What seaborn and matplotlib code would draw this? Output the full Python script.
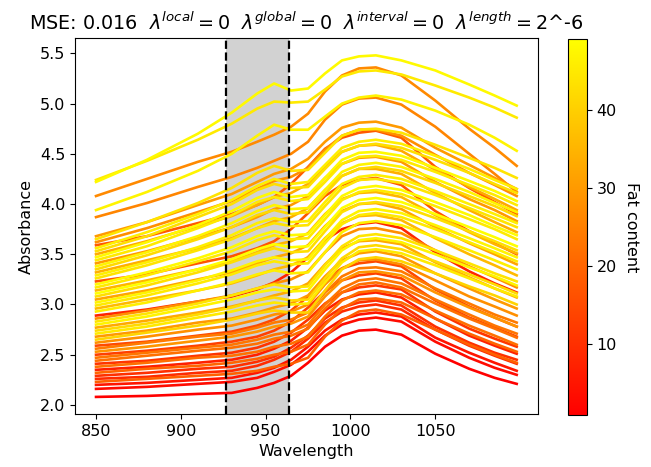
import numpy as np
import pandas as pd
import matplotlib
matplotlib.use("Agg")
import matplotlib.pyplot as plt
import seaborn as sns

wavelength = [850, 880, 910, 930, 945, 955, 965, 975, 985, 995, 1005, 1015, 1030, 1050, 1070, 1085, 1098]

# Fat content of each sample (colour of each curve)
fat = [48, 45, 27, 26, 47,
       30, 44, 28, 18, 46, 43, 33, 48, 45, 30, 47, 42, 34, 46, 44, 17,
       48, 45, 35, 49, 43, 32, 47, 45, 36, 46, 8, 28, 44, 47, 33, 42,
       45, 30, 41, 28, 15, 24, 29, 13, 23, 22, 11, 22, 7, 20, 10, 9,
       19, 5, 3, 1]

# Absorbance of each sample on the wavelength grid
spectra = [
    [4.22, 4.44, 4.70, 4.91, 5.10, 5.20, 5.13, 5.15, 5.30, 5.43, 5.47, 5.48, 5.43, 5.33, 5.19, 5.08, 4.98],
    [4.24, 4.43, 4.64, 4.80, 4.95, 5.02, 5.01, 5.02, 5.14, 5.27, 5.32, 5.33, 5.29, 5.18, 5.06, 4.96, 4.86],
    [4.08, 4.25, 4.42, 4.52, 4.62, 4.69, 4.77, 4.90, 5.12, 5.28, 5.35, 5.36, 5.28, 5.03, 4.75, 4.56, 4.38],
    [3.87, 4.01, 4.17, 4.27, 4.36, 4.43, 4.50, 4.62, 4.84, 4.99, 5.05, 5.06, 4.99, 4.77, 4.50, 4.30, 4.12],
    [3.94, 4.12, 4.33, 4.50, 4.68, 4.79, 4.74, 4.74, 4.87, 5.00, 5.06, 5.08, 5.04, 4.93, 4.79, 4.66, 4.53],
    [3.68, 3.82, 3.99, 4.10, 4.22, 4.30, 4.35, 4.45, 4.62, 4.76, 4.81, 4.82, 4.76, 4.56, 4.39, 4.26, 4.15],
    [3.65, 3.82, 4.01, 4.16, 4.31, 4.38, 4.33, 4.34, 4.51, 4.68, 4.74, 4.75, 4.71, 4.59, 4.46, 4.36, 4.26],
    [3.62, 3.76, 3.92, 4.03, 4.15, 4.23, 4.27, 4.36, 4.54, 4.68, 4.74, 4.74, 4.68, 4.49, 4.31, 4.19, 4.08],
    [3.59, 3.68, 3.81, 3.90, 3.99, 4.07, 4.20, 4.37, 4.55, 4.66, 4.71, 4.73, 4.66, 4.37, 4.16, 4.02, 3.90],
    [3.56, 3.72, 3.90, 4.04, 4.18, 4.25, 4.20, 4.22, 4.39, 4.56, 4.62, 4.64, 4.60, 4.48, 4.35, 4.24, 4.15],
    [3.53, 3.68, 3.87, 4.00, 4.14, 4.20, 4.16, 4.17, 4.35, 4.52, 4.58, 4.60, 4.56, 4.44, 4.31, 4.20, 4.11],
    [3.50, 3.63, 3.78, 3.88, 3.99, 4.07, 4.11, 4.20, 4.38, 4.52, 4.58, 4.59, 4.53, 4.34, 4.17, 4.05, 3.94],
    [3.47, 3.62, 3.79, 3.93, 4.06, 4.12, 4.07, 4.09, 4.26, 4.44, 4.51, 4.52, 4.48, 4.36, 4.23, 4.13, 4.03],
    [3.44, 3.58, 3.76, 3.89, 4.02, 4.07, 4.03, 4.05, 4.22, 4.40, 4.47, 4.48, 4.44, 4.32, 4.19, 4.09, 3.99],
    [3.41, 3.53, 3.67, 3.77, 3.87, 3.95, 3.99, 4.08, 4.26, 4.40, 4.46, 4.47, 4.42, 4.22, 4.05, 3.94, 3.83],
    [3.38, 3.52, 3.68, 3.81, 3.93, 3.99, 3.95, 3.96, 4.14, 4.32, 4.39, 4.41, 4.37, 4.25, 4.12, 4.01, 3.92],
    [3.35, 3.49, 3.65, 3.77, 3.89, 3.94, 3.90, 3.92, 4.10, 4.28, 4.35, 4.37, 4.33, 4.21, 4.08, 3.98, 3.88],
    [3.32, 3.44, 3.56, 3.66, 3.76, 3.83, 3.87, 3.96, 4.14, 4.28, 4.35, 4.35, 4.30, 4.11, 3.94, 3.82, 3.72],
    [3.29, 3.42, 3.57, 3.69, 3.81, 3.86, 3.82, 3.83, 4.02, 4.20, 4.27, 4.29, 4.25, 4.13, 4.00, 3.90, 3.81],
    [3.26, 3.39, 3.54, 3.65, 3.76, 3.81, 3.78, 3.79, 3.98, 4.16, 4.24, 4.25, 4.21, 4.09, 3.96, 3.86, 3.77],
    [3.23, 3.30, 3.41, 3.48, 3.56, 3.63, 3.75, 3.91, 4.08, 4.19, 4.24, 4.26, 4.19, 3.93, 3.73, 3.61, 3.50],
    [3.20, 3.32, 3.46, 3.57, 3.68, 3.73, 3.69, 3.70, 3.89, 4.08, 4.16, 4.18, 4.14, 4.02, 3.89, 3.78, 3.69],
    [3.17, 3.29, 3.43, 3.53, 3.64, 3.69, 3.65, 3.66, 3.85, 4.04, 4.12, 4.14, 4.10, 3.98, 3.85, 3.75, 3.65],
    [3.14, 3.24, 3.35, 3.43, 3.52, 3.59, 3.63, 3.71, 3.90, 4.05, 4.11, 4.12, 4.07, 3.89, 3.72, 3.60, 3.51],
    [3.11, 3.22, 3.35, 3.45, 3.55, 3.60, 3.57, 3.58, 3.77, 3.96, 4.04, 4.06, 4.02, 3.90, 3.77, 3.67, 3.58],
    [3.08, 3.19, 3.32, 3.42, 3.51, 3.56, 3.52, 3.53, 3.73, 3.92, 4.00, 4.02, 3.98, 3.86, 3.73, 3.63, 3.54],
    [3.05, 3.14, 3.25, 3.32, 3.41, 3.47, 3.51, 3.59, 3.78, 3.93, 4.00, 4.01, 3.95, 3.77, 3.61, 3.50, 3.40],
    [3.02, 3.12, 3.24, 3.34, 3.43, 3.47, 3.44, 3.45, 3.65, 3.84, 3.93, 3.95, 3.91, 3.79, 3.66, 3.56, 3.47],
    [2.99, 3.09, 3.21, 3.30, 3.39, 3.43, 3.40, 3.41, 3.61, 3.80, 3.89, 3.91, 3.87, 3.75, 3.62, 3.52, 3.43],
    [2.96, 3.05, 3.14, 3.21, 3.29, 3.35, 3.39, 3.47, 3.66, 3.81, 3.88, 3.89, 3.84, 3.66, 3.50, 3.39, 3.29],
    [2.93, 3.02, 3.14, 3.22, 3.30, 3.34, 3.31, 3.32, 3.52, 3.72, 3.81, 3.83, 3.79, 3.67, 3.54, 3.44, 3.35],
    [2.89, 2.95, 3.03, 3.08, 3.15, 3.22, 3.32, 3.47, 3.64, 3.75, 3.80, 3.82, 3.76, 3.52, 3.33, 3.21, 3.12],
    [2.86, 2.94, 3.03, 3.09, 3.16, 3.21, 3.25, 3.33, 3.52, 3.68, 3.75, 3.76, 3.71, 3.54, 3.38, 3.27, 3.17],
    [2.83, 2.91, 3.01, 3.09, 3.16, 3.20, 3.17, 3.18, 3.39, 3.58, 3.68, 3.70, 3.66, 3.54, 3.41, 3.31, 3.23],
    [2.80, 2.88, 2.98, 3.05, 3.12, 3.15, 3.13, 3.14, 3.35, 3.54, 3.64, 3.66, 3.62, 3.50, 3.37, 3.28, 3.19],
    [2.77, 2.84, 2.92, 2.98, 3.04, 3.09, 3.13, 3.21, 3.40, 3.56, 3.63, 3.64, 3.60, 3.42, 3.27, 3.16, 3.07],
    [2.74, 2.81, 2.90, 2.97, 3.04, 3.07, 3.04, 3.05, 3.26, 3.46, 3.57, 3.59, 3.55, 3.43, 3.30, 3.20, 3.11],
    [2.71, 2.78, 2.87, 2.93, 2.99, 3.02, 3.00, 3.01, 3.22, 3.42, 3.53, 3.55, 3.51, 3.39, 3.26, 3.16, 3.08],
    [2.68, 2.74, 2.82, 2.86, 2.92, 2.97, 3.01, 3.09, 3.28, 3.44, 3.51, 3.53, 3.48, 3.31, 3.16, 3.05, 2.96],
    [2.65, 2.72, 2.79, 2.85, 2.91, 2.94, 2.92, 2.92, 3.14, 3.35, 3.45, 3.47, 3.43, 3.31, 3.18, 3.09, 3.00],
    [2.62, 2.68, 2.75, 2.79, 2.85, 2.90, 2.93, 3.00, 3.20, 3.36, 3.44, 3.45, 3.40, 3.24, 3.08, 2.98, 2.89],
    [2.59, 2.63, 2.69, 2.73, 2.79, 2.85, 2.94, 3.08, 3.25, 3.36, 3.41, 3.43, 3.38, 3.15, 2.98, 2.87, 2.78],
    [2.56, 2.62, 2.68, 2.71, 2.77, 2.82, 2.85, 2.92, 3.12, 3.28, 3.36, 3.37, 3.33, 3.16, 3.01, 2.90, 2.82],
    [2.53, 2.58, 2.64, 2.68, 2.73, 2.78, 2.81, 2.88, 3.08, 3.24, 3.32, 3.33, 3.29, 3.12, 2.97, 2.87, 2.78],
    [2.50, 2.54, 2.59, 2.63, 2.68, 2.74, 2.83, 2.97, 3.13, 3.24, 3.29, 3.31, 3.26, 3.04, 2.87, 2.77, 2.68],
    [2.47, 2.52, 2.57, 2.60, 2.65, 2.70, 2.73, 2.80, 3.00, 3.16, 3.24, 3.26, 3.21, 3.05, 2.90, 2.79, 2.71],
    [2.44, 2.49, 2.54, 2.57, 2.61, 2.66, 2.69, 2.76, 2.96, 3.12, 3.20, 3.22, 3.17, 3.01, 2.86, 2.76, 2.67],
    [2.41, 2.44, 2.49, 2.52, 2.57, 2.63, 2.72, 2.85, 3.01, 3.12, 3.17, 3.19, 3.15, 2.93, 2.76, 2.66, 2.58],
    [2.38, 2.42, 2.47, 2.49, 2.53, 2.58, 2.61, 2.68, 2.88, 3.04, 3.12, 3.14, 3.10, 2.94, 2.79, 2.69, 2.60],
    [2.35, 2.38, 2.42, 2.45, 2.50, 2.56, 2.64, 2.77, 2.94, 3.05, 3.10, 3.12, 3.07, 2.86, 2.69, 2.59, 2.51],
    [2.32, 2.36, 2.39, 2.42, 2.46, 2.50, 2.53, 2.60, 2.80, 2.96, 3.05, 3.06, 3.02, 2.86, 2.71, 2.61, 2.53],
    [2.29, 2.32, 2.36, 2.38, 2.43, 2.48, 2.57, 2.69, 2.86, 2.97, 3.02, 3.04, 2.99, 2.78, 2.62, 2.52, 2.45],
    [2.26, 2.28, 2.32, 2.34, 2.39, 2.45, 2.53, 2.66, 2.82, 2.93, 2.98, 3.00, 2.95, 2.75, 2.59, 2.49, 2.41],
    [2.23, 2.26, 2.29, 2.31, 2.34, 2.38, 2.41, 2.47, 2.68, 2.84, 2.93, 2.95, 2.90, 2.75, 2.60, 2.50, 2.42],
    [2.20, 2.22, 2.25, 2.27, 2.32, 2.37, 2.45, 2.58, 2.74, 2.85, 2.90, 2.92, 2.88, 2.67, 2.52, 2.42, 2.34],
    [2.16, 2.18, 2.21, 2.23, 2.27, 2.33, 2.40, 2.53, 2.69, 2.80, 2.85, 2.87, 2.83, 2.63, 2.47, 2.37, 2.30],
    [2.08, 2.09, 2.11, 2.12, 2.17, 2.22, 2.29, 2.42, 2.58, 2.69, 2.74, 2.75, 2.70, 2.51, 2.36, 2.27, 2.21],
]

# Highlighted interval
interval = (926.5, 963.5)
fat_range = (0.9, 49.1)

title = (r"MSE: 0.016  $\lambda^{local} = 0$  $\lambda^{global} = 0$  "
         r"$\lambda^{interval} = 0$  $\lambda^{length} = 2$^-6")

# Long format table for seaborn
rows = []
for i, spec in enumerate(spectra):
    for w, a in zip(wavelength, spec):
        rows.append({"sample": i, "Wavelength": w, "Absorbance": a, "fat": fat[i]})
df = pd.DataFrame(rows)

fig = plt.figure(figsize=(6.51, 4.67), dpi=100)
ax = fig.add_axes([0.1152, 0.1135, 0.7108, 0.8045])
cax = fig.add_axes([0.8725, 0.1113, 0.0292, 0.8052])

ax.axvspan(*interval, color="gray", alpha=0.35, lw=0, zorder=0)

sns.lineplot(data=df, x="Wavelength", y="Absorbance", hue="fat", units="sample",
             estimator=None, palette="autumn", hue_norm=fat_range, legend=False,
             linewidth=1.9, ax=ax, zorder=2)

for x in interval:
    ax.axvline(x, color="black", ls="--", lw=1.6, zorder=3)

ax.set_xticks([850, 900, 950, 1000, 1050])
ax.tick_params(labelsize=11.5)
ax.set_xlabel("Wavelength", fontsize=11.5)
ax.set_ylabel("Absorbance", fontsize=11.5)
ax.set_title(title, fontsize=13.8)

sm = plt.cm.ScalarMappable(cmap="autumn", norm=plt.Normalize(*fat_range))
cbar = fig.colorbar(sm, cax=cax)
cbar.set_ticks([10, 20, 30, 40])
cbar.ax.tick_params(labelsize=11.5)
cbar.set_label("Fat content", rotation=270, labelpad=16, fontsize=11.5)

fig.savefig("out.png", dpi=100)
